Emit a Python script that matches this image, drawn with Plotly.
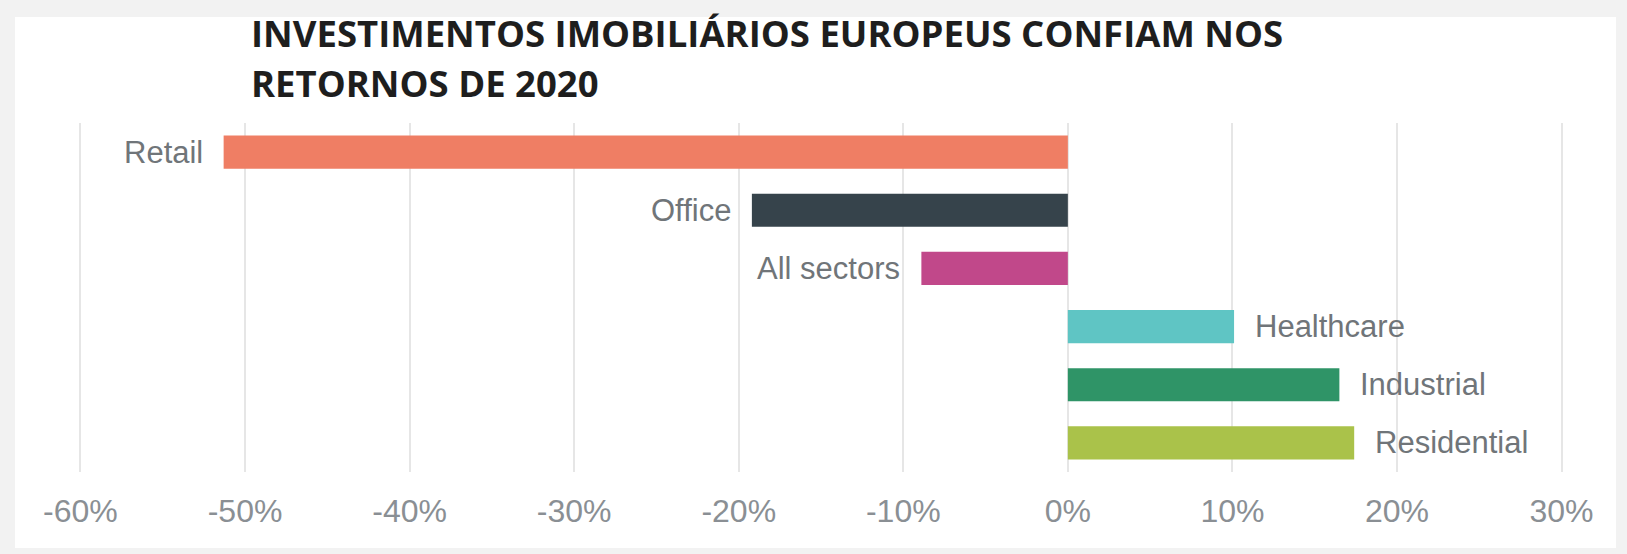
import plotly.graph_objects as go

# Sector returns for 2020 (fraction)
sectors = ["Retail", "Office", "All sectors", "Healthcare", "Industrial", "Residential"]
returns = [-0.513, -0.192, -0.089, 0.101, 0.165, 0.174]
colors = ["#ef7e64", "#36434b", "#c1488a", "#5fc5c4", "#2f9467", "#aac24a"]

tick_vals = [-0.6, -0.5, -0.4, -0.3, -0.2, -0.1, 0.0, 0.1, 0.2, 0.3]
tick_text = ["-60%", "-50%", "-40%", "-30%", "-20%", "-10%", "0%", "10%", "20%", "30%"]

title_lines = ["INVESTIMENTOS IMOBILIÁRIOS EUROPEUS CONFIAM NOS", "RETORNOS DE 2020"]

W, H = 1627, 554
ML, MR, MT, MB = 64, 49, 123, 82
PW, PH = W - ML - MR, H - MT - MB


def px_x(x):
    return (x - ML) / PW


def px_y(y):
    return (H - MB - y) / PH


fig = go.Figure(
    go.Bar(
        x=returns,
        y=sectors,
        orientation="h",
        marker=dict(color=colors, line=dict(width=0)),
        hoverinfo="skip",
    )
)

# Sector names beside the bar ends
for name, val in zip(sectors, returns):
    fig.add_annotation(
        x=val, y=name, xref="x", yref="y",
        text=name, showarrow=False,
        xanchor="right" if val < 0 else "left",
        xshift=-19 if val < 0 else 19,
        font=dict(family="Liberation Sans, Arial, sans-serif", size=31, color="#707579"),
    )

# Two-line heading
for i, line in enumerate(title_lines):
    fig.add_annotation(
        x=px_x(249), y=px_y(33 + 50 * i), xref="paper", yref="paper",
        text="<b>" + line + "</b>", showarrow=False,
        xanchor="left", yanchor="middle",
        font=dict(family="Open Sans, sans-serif", size=36.5, color="#1e1e1e"),
    )

# White card on a light grey frame
fig.add_shape(
    type="rect", xref="paper", yref="paper", layer="below",
    x0=px_x(15), x1=px_x(1616), y0=px_y(548), y1=px_y(17),
    fillcolor="white", line=dict(width=0),
)

fig.update_layout(
    width=W, height=H,
    margin=dict(l=ML, r=MR, t=MT, b=MB),
    paper_bgcolor="#f2f2f2",
    plot_bgcolor="white",
    showlegend=False,
    bargap=0.43,
    xaxis=dict(
        range=[-0.61, 0.31],
        tickvals=tick_vals,
        ticktext=tick_text,
        showgrid=True, gridcolor="#e6e6e6", gridwidth=2,
        zeroline=False, showline=False, ticks="",
        ticklabelstandoff=17,
        tickfont=dict(family="Liberation Sans, Arial, sans-serif", size=32, color="#8a8f94"),
    ),
    yaxis=dict(
        categoryorder="array", categoryarray=sectors, autorange="reversed",
        showticklabels=False, showgrid=False, zeroline=False, showline=False, ticks="",
    ),
)

fig.write_html("out.html")
